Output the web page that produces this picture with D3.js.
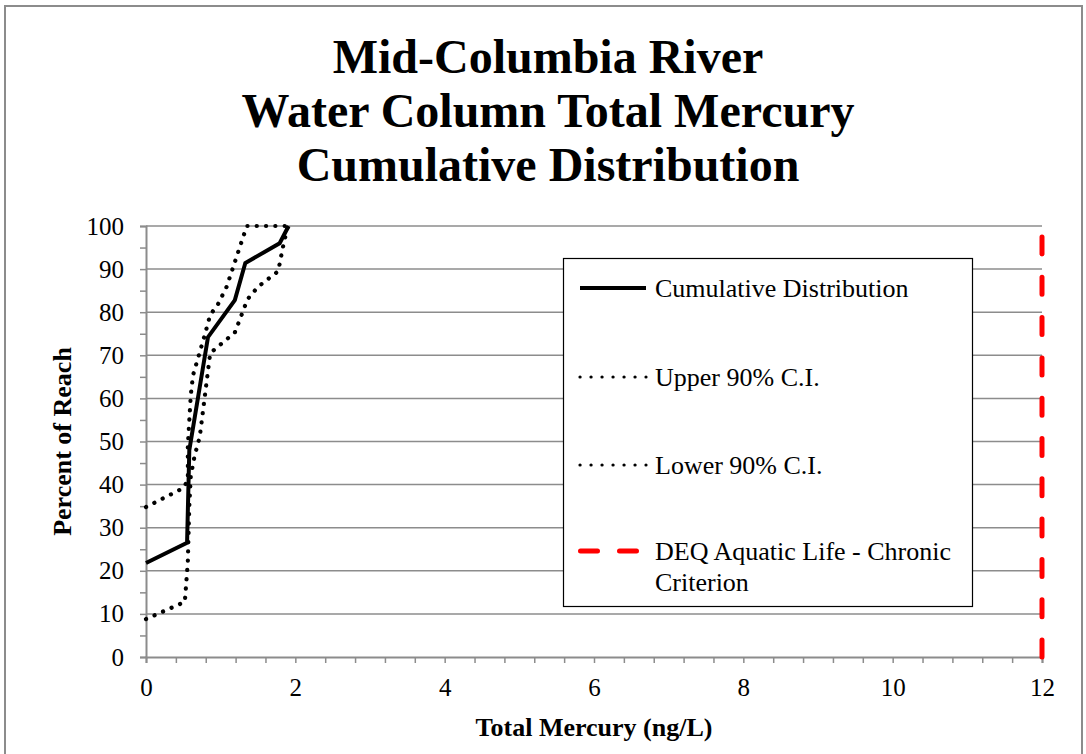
<!DOCTYPE html>
<html><head><meta charset="utf-8">
<script src="https://cdn.jsdelivr.net/npm/d3@7"></script>
<style>html,body{margin:0;padding:0;background:#fff;}svg{display:block;}</style>
</head><body>
<svg id="chart" width="1086" height="754"></svg>
<script>
// ---- data ----
const titleLines = ["Mid-Columbia River", "Water Column Total Mercury", "Cumulative Distribution"];
const xTicks = [0, 2, 4, 6, 8, 10, 12];
const yTicks = [0, 10, 20, 30, 40, 50, 60, 70, 80, 90, 100];
// Cumulative distribution: [Total Mercury ng/L, Percent of Reach]
const cdfX = [0, 0.55, 0.58, 0.83, 1.19, 1.33, 1.79, 1.91];
const cdfY = [21.8, 26.5, 48, 74.2, 82.8, 91.4, 96, 100];
// Upper 90% C.I.
const upperX = [0, 0.50, 0.56, 0.56, 0.60, 0.63, 0.79, 0.86, 0.96, 1.08, 1.35, 1.90];
const upperY = [34.8, 39.2, 41, 49, 60.8, 65.4, 74.9, 79.4, 81.7, 85.9, 100, 100];
// Lower 90% C.I.
const lowerX = [0, 0.52, 0.56, 0.58, 0.60, 0.65, 0.72, 0.86, 1.19, 1.36, 1.50, 1.77, 1.84, 1.90];
const lowerY = [8.8, 12.8, 22, 35, 42, 46.6, 51.1, 70.5, 75.3, 83, 85.9, 89.5, 95.6, 100];
// DEQ Aquatic Life - Chronic Criterion (ng/L)
const criterion = 12;
const legendLabels = ["Cumulative Distribution", "Upper 90% C.I.", "Lower 90% C.I.", "DEQ Aquatic Life - Chronic|Criterion"];

// ---- drawing ----
const svg = d3.select("#chart");
const m = {left: 146, right: 1042, top: 226, bottom: 657};
const x = d3.scaleLinear().domain([0, 12]).range([m.left, m.right]);
const y = d3.scaleLinear().domain([0, 100]).range([m.bottom, m.top]);
const serif = "'Liberation Serif','Times New Roman',serif";
const grid = "#8c8c8c";

// outer frame
svg.append("rect").attr("x", 5).attr("y", 6).attr("width", 1077).attr("height", 760)
  .attr("fill", "#fff").attr("stroke", "#8c8c8c").attr("stroke-width", 2);

// title
const title = svg.append("text").attr("text-anchor", "middle")
  .attr("font-family", serif).attr("font-weight", "bold").attr("font-size", 48).attr("fill", "#000");
titleLines.forEach((t, i) => title.append("tspan").attr("x", 548).attr("y", 73 + i * 54).text(t));

// gridlines
svg.append("g").selectAll("line").data(yTicks.filter(d => d > 0)).join("line")
  .attr("x1", m.left).attr("x2", m.right).attr("y1", d => y(d)).attr("y2", d => y(d))
  .attr("stroke", grid).attr("stroke-width", 1.5);

// y axis
const yMinor = d3.range(0, 101, 5);
const yAxis = svg.append("g").attr("transform", `translate(${m.left},0)`)
  .call(d3.axisLeft(y).tickValues(yMinor).tickSize(6).tickFormat(d => d % 10 === 0 ? d : ""));
yAxis.select(".domain").attr("stroke", grid).attr("stroke-width", 2);
yAxis.selectAll(".tick line").attr("stroke", grid).attr("stroke-width", 1.5);
yAxis.selectAll(".tick text").attr("font-family", serif).attr("font-size", 25).attr("fill", "#000").attr("x", -22);

// x axis
const xMinor = d3.range(0, 30.5, 1).map(i => i * 0.4);
const xAxis = svg.append("g").attr("transform", `translate(0,${m.bottom})`)
  .call(d3.axisBottom(x).tickValues(xMinor).tickSize(6).tickFormat(d => {
    const r = Math.round(d * 10) / 10; return xTicks.includes(r) ? r : "";
  }));
xAxis.select(".domain").attr("stroke", grid).attr("stroke-width", 2);
xAxis.selectAll(".tick line").attr("stroke", grid).attr("stroke-width", 1.5);
xAxis.selectAll(".tick text").attr("font-family", serif).attr("font-size", 25).attr("fill", "#000").attr("y", 21);

// axis titles
svg.append("text").attr("x", (m.left + m.right) / 2).attr("y", 736).attr("text-anchor", "middle")
  .attr("font-family", serif).attr("font-weight", "bold").attr("font-size", 26).text("Total Mercury (ng/L)");
svg.append("text").attr("transform", `translate(71,${(m.top + m.bottom) / 2}) rotate(-90)`).attr("text-anchor", "middle")
  .attr("font-family", serif).attr("font-weight", "bold").attr("font-size", 26).text("Percent of Reach");

// series
const line = d3.line().x(d => x(d[0])).y(d => y(d[1]));
const zip = (a, b) => a.map((v, i) => [v, b[i]]);
const styles = {
  cdf: {stroke: "#000", width: 4, dash: null, cap: "butt"},
  ci: {stroke: "#000", width: 4.2, dash: "0.1,9.2", cap: "round"},
  crit: {stroke: "#ff0000", width: 5, dash: "17,23.3", cap: "round"}
};
svg.append("path").datum(zip(upperX, upperY)).attr("d", line).attr("fill", "none")
  .attr("stroke", "#000").attr("stroke-width", styles.ci.width).attr("stroke-dasharray", styles.ci.dash).attr("stroke-linecap", "round");
svg.append("path").datum(zip(lowerX, lowerY)).attr("d", line).attr("fill", "none")
  .attr("stroke", "#000").attr("stroke-width", styles.ci.width).attr("stroke-dasharray", styles.ci.dash).attr("stroke-linecap", "round");
svg.append("path").datum(zip(cdfX, cdfY)).attr("d", line).attr("fill", "none")
  .attr("stroke", "#000").attr("stroke-width", 4).attr("stroke-linejoin", "miter");
svg.append("path").datum([[criterion, 0], [criterion, 100]]).attr("d", line).attr("fill", "none")
  .attr("stroke", "#ff0000").attr("stroke-width", 5).attr("stroke-dasharray", styles.crit.dash).attr("stroke-linecap", "round");

// legend
const lg = svg.append("g");
lg.append("rect").attr("x", 563.5).attr("y", 258.5).attr("width", 409).attr("height", 348)
  .attr("fill", "#fff").attr("stroke", "#000").attr("stroke-width", 1.2);
const rows = [288, 377, 465, 551];
const keys = ["cdf", "ci", "ci", "crit"];
legendLabels.forEach((lab, i) => {
  const s = styles[keys[i]];
  const l = lg.append("line").attr("x1", 580).attr("x2", i === 3 ? 640 : 646).attr("y1", rows[i]).attr("y2", rows[i])
    .attr("stroke", s.stroke).attr("stroke-width", i === 0 ? 4 : (i === 3 ? 5 : 3.2)).attr("stroke-linecap", s.cap);
  if (i === 1 || i === 2) l.attr("stroke-dasharray", "0.1,10.9");
  if (i === 3) l.attr("stroke-dasharray", "17,22").attr("x1", 580.5);
  const t = lg.append("text").attr("font-family", serif).attr("font-size", 26).attr("fill", "#000");
  lab.split("|").forEach((p, j) => t.append("tspan").attr("x", 655).attr("y", rows[i] + 9 + j * 31).text(p));
});
</script>
</body></html>
